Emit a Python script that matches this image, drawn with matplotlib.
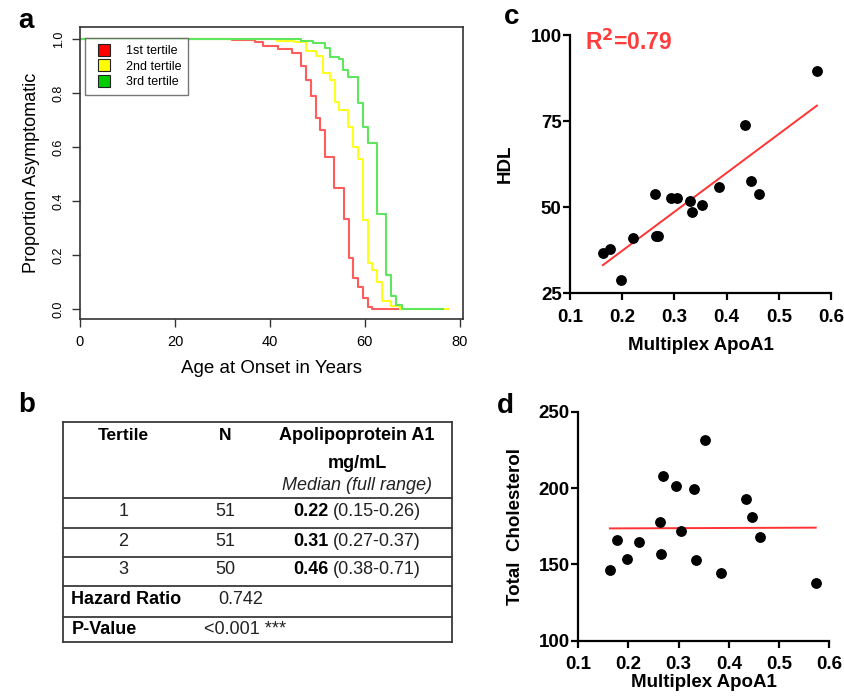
import numpy as np
import matplotlib
matplotlib.use('Agg')
import matplotlib.pyplot as plt
from matplotlib.lines import Line2D

plt.rcParams['font.family'] = ['Liberation Sans', 'DejaVu Sans']

# ---- panel a: Kaplan-Meier step curves (age, proportion asymptomatic)
t1_age = [0, 32.0, 36.8, 38.6, 41.6, 44.6, 46.5, 47.6, 48.6, 49.6, 50.6, 51.6,
          53.5, 55.5, 56.6, 57.6, 58.6, 59.6, 60.6, 61.5, 67.4]
t1_surv = [1.0, 0.996, 0.99, 0.975, 0.963, 0.948, 0.899, 0.849, 0.79, 0.708, 0.664,
           0.565, 0.45, 0.334, 0.191, 0.117, 0.083, 0.04, 0.007, 0.0, 0.0]
t2_age = [0, 41.4, 45.0, 47.5, 49.8, 51.2, 52.6, 53.6, 54.6, 56.5, 57.6, 58.6,
          59.6, 60.6, 61.6, 62.5, 63.5, 65.6, 67.4, 77.5]
t2_surv = [1.0, 0.994, 0.988, 0.955, 0.938, 0.874, 0.848, 0.765, 0.736, 0.675, 0.6,
           0.556, 0.331, 0.173, 0.145, 0.1, 0.031, 0.014, 0.0, 0.0]
t3_age = [0, 46.5, 49.0, 51.6, 52.6, 54.6, 55.4, 56.5, 58.6, 59.6, 60.6, 62.5,
          64.4, 65.6, 66.5, 67.9, 76.5]
t3_surv = [1.0, 0.994, 0.986, 0.966, 0.935, 0.925, 0.886, 0.86, 0.762, 0.676, 0.614,
           0.353, 0.127, 0.05, 0.016, 0.0, 0.0]
tertile_names = ['1st tertile', '2nd tertile', '3rd tertile']

# ---- panel b: table
tertiles = ['1', '2', '3']
n_counts = [51, 51, 50]
apoa1_median = ['0.22', '0.31', '0.46']
apoa1_range = ['(0.15-0.26)', '(0.27-0.37)', '(0.38-0.71)']
hazard_ratio = '0.742'
p_value = '<0.001 ***'

# ---- panels c, d: scatter vs multiplex ApoA1
apoa1 = [0.163, 0.177, 0.197, 0.220, 0.263, 0.265, 0.268, 0.294, 0.305, 0.330,
         0.334, 0.352, 0.385, 0.435, 0.447, 0.462, 0.573]
hdl = [36.8, 38.0, 28.9, 41.0, 53.7, 41.6, 41.6, 52.8, 52.8, 51.7,
       48.7, 50.6, 55.9, 74.0, 57.6, 53.7, 89.6]
chol = [146.3, 165.9, 153.3, 164.6, 178.0, 157.0, 207.9, 201.3, 172.1, 199.1,
        152.6, 231.4, 144.1, 193.0, 181.0, 168.1, 138.0]

W, H = 845, 699
fig = plt.figure(figsize=(W / 100, H / 100), dpi=100)


def box(l, t, r, b):
    return [l / W, 1 - b / H, (r - l) / W, (b - t) / H]


# panel a
ax = fig.add_axes(box(80, 27.3, 462.7, 319.3))
line_cols = ['#ff5c5c', '#ffff1f', '#5ee65e']
for ages, surv, c in zip([t1_age, t2_age, t3_age], [t1_surv, t2_surv, t3_surv], line_cols):
    ax.plot(ages, surv, drawstyle='steps-post', color=c, lw=1.5)
ax.set_xlim(0, 80.6)
ax.set_ylim(-0.037, 1.043)
ax.set_xticks([0, 20, 40, 60, 80])
ax.set_yticks([0, 0.2, 0.4, 0.6, 0.8, 1.0])
ax.set_yticklabels(['0.0', '0.2', '0.4', '0.6', '0.8', '1.0'], rotation=90, va='center')
ax.tick_params(length=6, width=1, color='#333', pad=5)
ax.tick_params(axis='x', labelsize=10.5)
ax.tick_params(axis='y', labelsize=9)
for s in ax.spines.values():
    s.set_color('#333')
    s.set_linewidth(1.2)
ax.set_xlabel('Age at Onset in Years', fontsize=13.5, labelpad=8)
ax.set_ylabel('Proportion Asymptomatic', fontsize=13, labelpad=9)
handles = [Line2D([], [], marker='s', ls='none', markersize=8, markerfacecolor=c,
                  markeredgecolor='#222', markeredgewidth=0.8)
           for c in ['#ff0000', '#ffff00', '#00cc00']]
leg = ax.legend(handles, tertile_names, loc='upper left', bbox_to_anchor=(0.013, 0.963),
                borderaxespad=0, fancybox=False, edgecolor='#555', fontsize=9,
                handletextpad=0.7, labelspacing=0.3, borderpad=0.55)
leg.get_frame().set_linewidth(1.0)


# panel c / d styling helper
def prism(axx):
    for side in ['top', 'right']:
        axx.spines[side].set_visible(False)
    for side in ['left', 'bottom']:
        axx.spines[side].set_linewidth(1.6)
    axx.tick_params(direction='out', length=5, width=1.6, labelsize=13.5)
    axx.tick_params(axis='x', pad=6)
    axx.tick_params(axis='y', pad=1)
    for lab in axx.get_xticklabels() + axx.get_yticklabels():
        lab.set_fontweight('bold')


x_fit = np.array([min(apoa1), max(apoa1)])

# panel c
axc = fig.add_axes(box(570, 35, 831, 293.3))
axc.scatter(apoa1, hdl, s=46, color='black', zorder=3)
k, b0 = np.polyfit(apoa1, hdl, 1)
axc.plot(x_fit, k * x_fit + b0, color='#ff3333', lw=1.4)
axc.set_xlim(0.1, 0.6)
axc.set_ylim(25, 100)
axc.set_xticks([0.1, 0.2, 0.3, 0.4, 0.5, 0.6])
axc.set_yticks([25, 50, 75, 100])
prism(axc)
axc.set_xlabel('Multiplex ApoA1', fontsize=13.5, fontweight='bold', labelpad=8)
axc.set_ylabel('HDL', fontsize=13.5, fontweight='bold', labelpad=12)
axc.text(0.057, 0.97, 'R$^\\mathbf{2}$=0.79', transform=axc.transAxes, color='#ff3b3b',
         fontsize=16.5, fontweight='bold', ha='left', va='center')

# panel d
axd = fig.add_axes(box(578.3, 411.7, 829.3, 640.7))
axd.scatter(apoa1, chol, s=46, color='black', zorder=3)
k2, b2 = np.polyfit(apoa1, chol, 1)
axd.plot(x_fit, k2 * x_fit + b2, color='#ff3333', lw=1.4)
axd.set_xlim(0.1, 0.6)
axd.set_ylim(100, 250)
axd.set_xticks([0.1, 0.2, 0.3, 0.4, 0.5, 0.6])
axd.set_yticks([100, 150, 200, 250])
prism(axd)
axd.set_xlabel('Multiplex ApoA1', fontsize=13.5, fontweight='bold', labelpad=0.5)
axd.set_ylabel('Total  Cholesterol', fontsize=13.5, fontweight='bold', labelpad=11)

# panel b: table drawn in pixel coordinates
tab = fig.add_axes([0, 0, 1, 1], zorder=-1)
tab.set_xlim(0, W)
tab.set_ylim(H, 0)
tab.axis('off')
lc = '#3a3a3a'
tl, tr = 63.3, 451.7
rows_y = [421.7, 498.3, 527.7, 557.3, 586, 616.7, 642.3]
for yy in rows_y:
    tab.plot([tl, tr], [yy, yy], color=lc, lw=1.3)
tab.plot([tl, tl], [rows_y[0], rows_y[-1]], color=lc, lw=1.3)
tab.plot([tr, tr], [rows_y[0], rows_y[-1]], color=lc, lw=1.3)

fs = 13
col_t, col_n, col_a = 123.5, 225.5, 357
tab.text(col_t, 435, 'Tertile', fontsize=12.5, fontweight='bold', ha='center', va='center')
tab.text(col_n, 435, 'N', fontsize=12.5, fontweight='bold', ha='center', va='center')
tab.text(col_a, 436, 'Apolipoprotein A1', fontsize=13, fontweight='bold', ha='center', va='center')
tab.text(col_a, 464, 'mg/mL', fontsize=13, fontweight='bold', ha='center', va='center')
tab.text(col_a, 486, 'Median (full range)', fontsize=13, style='italic',
         color='#222', ha='center', va='center')
for i, yy in enumerate([511, 541, 569.5]):
    tab.text(col_t, yy, tertiles[i], fontsize=fs, ha='center', va='center', color='#222')
    tab.text(col_n, yy, str(n_counts[i]), fontsize=fs, ha='center', va='center', color='#222')
    tab.text(328.5, yy, apoa1_median[i], fontsize=fs, fontweight='bold', ha='right', va='center')
    tab.text(332.5, yy, apoa1_range[i], fontsize=fs, ha='left', va='center', color='#222')
tab.text(71.5, 600, 'Hazard Ratio', fontsize=fs, fontweight='bold', ha='left', va='center')
tab.text(218.5, 600, hazard_ratio, fontsize=fs, ha='left', va='center', color='#222')
tab.text(71.5, 629, 'P-Value', fontsize=fs, fontweight='bold', ha='left', va='center')
tab.text(204, 629, p_value, fontsize=fs, ha='left', va='center', color='#222')

# panel letters
for lab, (px, py) in zip('abcd', [(25.5, 21), (27, 405), (512, 17), (505, 406)]):
    tab.text(px, py, lab, fontsize=20, fontweight='bold', ha='center', va='center')

fig.savefig('out.png', dpi=100)
